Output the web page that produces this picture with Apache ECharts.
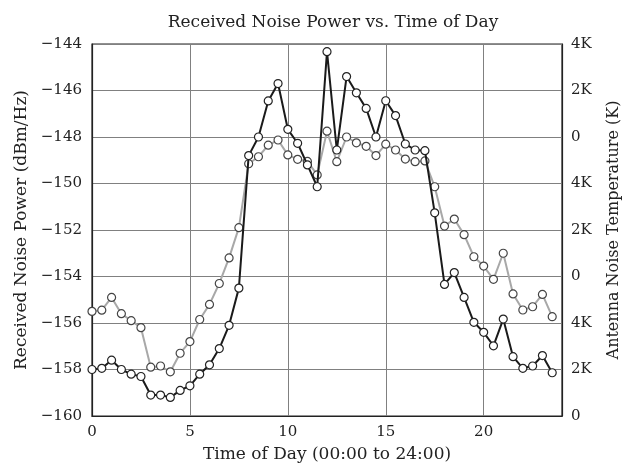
<!DOCTYPE html>
<html><head><meta charset="utf-8">
<script src="https://cdn.jsdelivr.net/npm/echarts@6/dist/echarts.min.js"></script>
<style>html,body{margin:0;padding:0;background:#fff}#c{width:626px;height:464px}</style>
</head><body><div id="c"></div>
<script>
const hours = [0,0.5,1,1.5,2,2.5,3,3.5,4,4.5,5,5.5,6,6.5,7,7.5,8,8.5,9,9.5,10,10.5,11,11.5,12,12.5,13,13.5,14,14.5,15,15.5,16,16.5,17,17.5,18,18.5,19,19.5,20,20.5,21,21.5,22,22.5,23,23.5];
const blackSeries = [-158.0,-157.95,-157.6,-158.0,-158.2,-158.3,-159.1,-159.1,-159.2,-158.9,-158.7,-158.2,-157.8,-157.1,-156.1,-154.5,-148.8,-148.0,-146.45,-145.7,-147.67,-148.27,-149.2,-150.14,-144.33,-148.56,-145.4,-146.1,-146.77,-148.0,-146.44,-147.08,-148.3,-148.56,-148.59,-151.26,-154.34,-153.83,-154.9,-155.97,-156.4,-156.98,-155.83,-157.45,-157.95,-157.85,-157.4,-158.14];
const graySeries = [-155.5,-155.45,-154.9,-155.6,-155.9,-156.2,-157.9,-157.85,-158.1,-157.3,-156.8,-155.85,-155.2,-154.3,-153.2,-151.9,-149.15,-148.85,-148.35,-148.13,-148.77,-148.96,-149.05,-149.63,-147.75,-149.06,-148.0,-148.25,-148.4,-148.8,-148.31,-148.56,-148.95,-149.06,-149.03,-150.14,-151.83,-151.53,-152.2,-153.15,-153.55,-154.12,-153.0,-154.75,-155.44,-155.3,-154.77,-155.73];
const rightTickLabels = ['0','2K','4K','0','2K','4K','0','2K','4K'];

const FONT = 'DejaVu Serif';
const chart = echarts.init(document.getElementById('c'));
const pairs = (ys) => hours.map((h,i)=>[h, ys[i]]);
const nm = (s) => ({fontFamily: FONT, fontSize: s, color: '#222'});
const tick = {fontFamily: FONT, fontSize: 15, color: '#222'};
chart.setOption({
  animation: false,
  backgroundColor: '#fff',
  title: {text: 'Received Noise Power vs. Time of Day', left: 328, top: 9, textAlign: 'center',
    textStyle: {fontFamily: FONT, fontSize: 17, fontWeight: 'normal', color: '#222'}},
  grid: {left: 92, right: 64, top: 44, bottom: 48, outerBoundsMode: 'none', containLabel: false,
    show: true, borderColor: '#222', borderWidth: 1.2},
  xAxis: {type: 'value', min: 0, max: 24, interval: 5,
    name: 'Time of Day (00:00 to 24:00)', nameLocation: 'middle', nameGap: 30,
    nameTextStyle: nm(17),
    axisLine: {lineStyle: {color: '#222', width: 1.2}}, axisTick: {show: false},
    axisLabel: Object.assign({margin: 9, showMaxLabel: false, formatter: v => (v % 5 === 0 ? String(v) : '')}, tick),
    splitLine: {show: true, lineStyle: {color: '#808080', width: 1}}},
  yAxis: [
    {type: 'value', min: -160, max: -144, interval: 2,
     name: 'Received Noise Power (dBm/Hz)', nameLocation: 'middle', nameGap: 62,
     nameTextStyle: nm(17),
     axisLine: {show: true, lineStyle: {color: '#222', width: 1.2}}, axisTick: {show: false},
     axisLabel: Object.assign({margin: 10, formatter: v => String(v).replace('-', '\u2212')}, tick),
     splitLine: {show: true, lineStyle: {color: '#808080', width: 1}}},
    {type: 'value', min: 0, max: 8, interval: 1, position: 'right',
     name: 'Antenna Noise Temperature (K)', nameLocation: 'middle', nameGap: 44, nameRotate: 90,
     nameTextStyle: nm(16),
     axisLine: {show: true, lineStyle: {color: '#222', width: 1.2}}, axisTick: {show: false},
     axisLabel: Object.assign({margin: 9, formatter: v => rightTickLabels[Math.round(v)]}, tick),
     splitLine: {show: false}}
  ],
  series: [
    {type: 'line', data: pairs(graySeries), symbol: 'circle', symbolSize: 8,
     lineStyle: {color: '#a8a8a8', width: 2}, itemStyle: {color: '#fff', borderColor: '#444', borderWidth: 1.2}, z: 2},
    {type: 'line', data: pairs(blackSeries), symbol: 'circle', symbolSize: 8,
     lineStyle: {color: '#1a1a1a', width: 2}, itemStyle: {color: '#fff', borderColor: '#222', borderWidth: 1.2}, z: 3}
  ]
});
</script></body></html>
